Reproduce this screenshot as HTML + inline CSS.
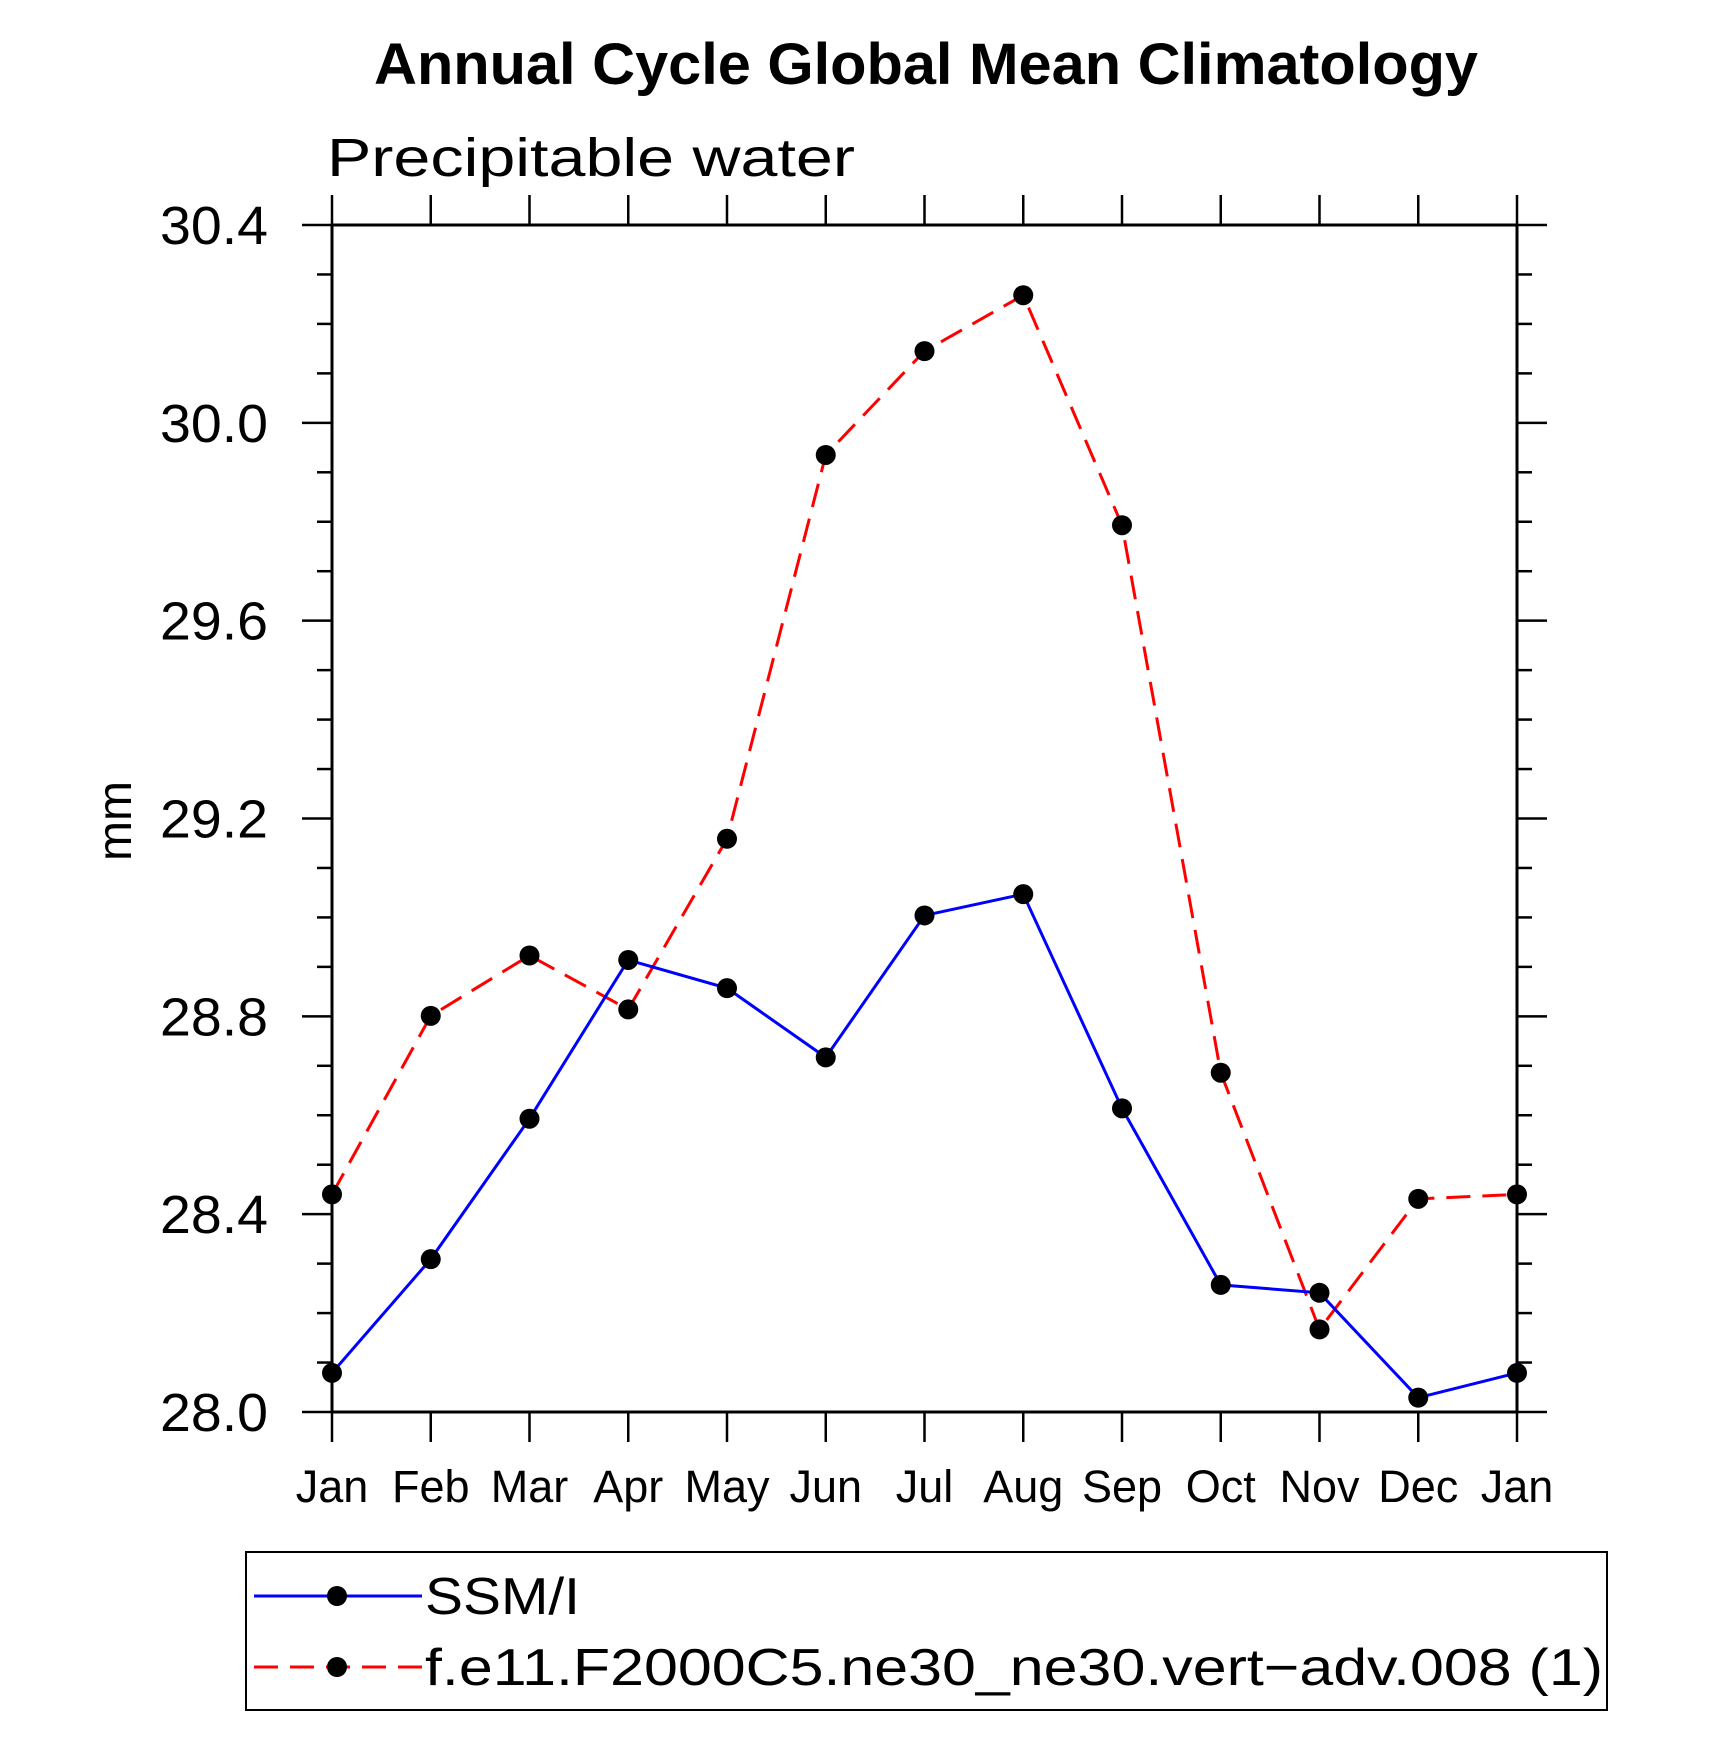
<!DOCTYPE html>
<html><head><meta charset="utf-8"><style>
body{margin:0;background:#fff}
svg{display:block}
text{font-family:"Liberation Sans",sans-serif}
</style></head><body>
<svg id="chart" width="1710" height="1747" viewBox="0 0 1710 1747" xmlns="http://www.w3.org/2000/svg">
<text x="926" y="84" text-anchor="middle" font-size="58" font-weight="bold" textLength="1104" lengthAdjust="spacingAndGlyphs">Annual Cycle Global Mean Climatology</text>
<text x="327" y="176" font-size="54" textLength="528" lengthAdjust="spacingAndGlyphs" fill="#000">Precipitable water</text>
<text x="0" y="0" font-size="48" text-anchor="middle" transform="translate(131,821) rotate(-90)">mm</text>
<g id="axes"></g>
<g id="series"></g>
<rect x="246" y="1552" width="1361" height="158" fill="none" stroke="#000" stroke-width="2"/>
<g>
<line x1="254" y1="1596" x2="422" y2="1596" stroke="#00f" stroke-width="3"/>
<circle cx="337" cy="1596" r="10" fill="#000"/>
<text x="425" y="1614" font-size="52" textLength="155" lengthAdjust="spacingAndGlyphs">SSM/I</text>
</g>
<g>
<line x1="254" y1="1667" x2="422" y2="1667" stroke="#f00" stroke-width="3" stroke-dasharray="24,12"/>
<circle cx="337" cy="1667" r="10" fill="#000"/>
<text x="425" y="1685" font-size="52" textLength="1178" lengthAdjust="spacingAndGlyphs">f.e11.F2000C5.ne30_ne30.vert−adv.008 (1)</text>
</g>
</svg>
<script>
const months = ["Jan","Feb","Mar","Apr","May","Jun","Jul","Aug","Sep","Oct","Nov","Dec","Jan"];
const ssmi = [28.079,28.309,28.593,28.914,28.857,28.717,29.004,29.047,28.614,28.257,28.241,28.029,28.079];
const model = [28.44,28.801,28.923,28.814,29.159,29.935,30.145,30.258,29.793,28.686,28.167,28.431,28.44];
const yTicks = ["28.0","28.4","28.8","29.2","29.6","30.0","30.4"];
const X0=332,X1=1517,Y0=1412,Y1=225,YMIN=28.0,YMAX=30.4;
const NS="http://www.w3.org/2000/svg";
function xs(i){return X0+(X1-X0)*i/(months.length-1);}
function ys(v){return Y0-(v-YMIN)/(YMAX-YMIN)*(Y0-Y1);}
function mk(tag,attrs,parent){const e=document.createElementNS(NS,tag);for(const k in attrs)e.setAttribute(k,attrs[k]);parent.appendChild(e);return e;}
const ax=document.getElementById('axes');
const frame=mk('rect',{x:X0,y:Y1,width:X1-X0,height:Y0-Y1,fill:'none',stroke:'#000','stroke-width':3},ax);


months.forEach((m,i)=>{
  const x=xs(i);
  mk('line',{x1:x,y1:Y0,x2:x,y2:Y0+30,stroke:'#000','stroke-width':2.5},ax);
  mk('line',{x1:x,y1:Y1,x2:x,y2:Y1-30,stroke:'#000','stroke-width':2.5},ax);
  const t=mk('text',{x:x,y:Y0+90,'text-anchor':'middle','font-size':45},ax);
  t.textContent=m;
  
  
});
for(let k=0;k<=24;k++){
  const v=YMIN+k*0.1,y=ys(v),major=k%4===0,L=major?30:15;
  mk('line',{x1:X0-L,y1:y,x2:X0,y2:y,stroke:'#000','stroke-width':2.5},ax);
  mk('line',{x1:X1,y1:y,x2:X1+L,y2:y,stroke:'#000','stroke-width':2.5},ax);
}
yTicks.forEach(s=>{
  const t=mk('text',{x:268,y:ys(parseFloat(s))+19,'text-anchor':'end','font-size':54,textLength:108,lengthAdjust:'spacingAndGlyphs'},ax);
  t.textContent=s;
  
  
});
const sg=document.getElementById('series');
function drawSeries(vals,color,dash,name){
  const g=mk('g',{},sg);
  
  
  const pts=vals.map((v,i)=>xs(i)+','+ys(v)).join(' ');
  const attrs={points:pts,fill:'none',stroke:color,'stroke-width':3};
  if(dash)attrs['stroke-dasharray']=dash;
  mk('polyline',attrs,g);
  vals.forEach((v,i)=>{
    const c=mk('circle',{cx:xs(i),cy:ys(v),r:10,fill:'#000'},g);
    
    
  });
}
drawSeries(model,'#f00','24,12','model-series');
drawSeries(ssmi,'#00f',null,'ssmi-series');
</script>
</body></html>
